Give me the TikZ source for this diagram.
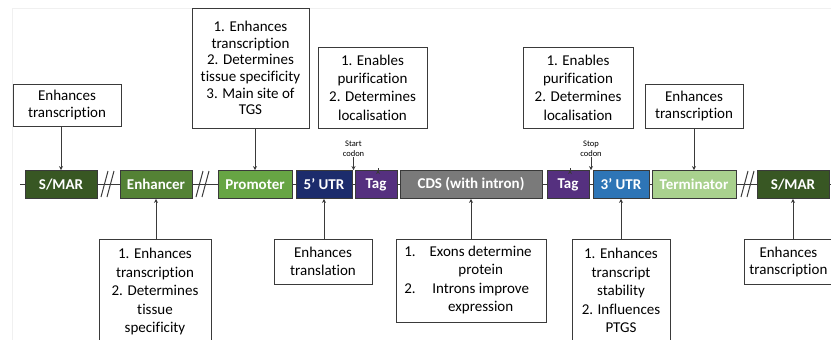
\documentclass[tikz,border=0pt]{standalone}
\usepackage{fontspec}
\setmainfont{Carlito}[Ligatures={NoCommon}]
\usetikzlibrary{arrows.meta,calc}
\definecolor{csmar}{HTML}{385723}
\definecolor{cenh}{HTML}{548235}
\definecolor{cprom}{HTML}{67A544}
\definecolor{cutrf}{HTML}{1C2C6C}
\definecolor{ctag}{HTML}{55307F}
\definecolor{ccds}{HTML}{7A7A7A}
\definecolor{cutrt}{HTML}{2E75B6}
\definecolor{cterm}{HTML}{A9D18E}
\definecolor{cline}{HTML}{3A3A3A}
\begin{document}
\begin{tikzpicture}[x=1pt,y=-1pt,
  blk/.style={draw=cline,line width=0.8pt,minimum height=28pt,inner sep=0pt,
    text=white,font=\fontsize{15}{16}\selectfont\bfseries},
  infobox/.style={draw=cline,line width=0.9pt,fill=white,inner sep=0pt,align=center,
    font=\fontsize{15}{18.3}\selectfont},
  conn/.style={draw=cline,line width=1pt,-{Stealth[length=4pt,width=4pt]}},
  brk/.style={draw=cline,line width=1pt},
  codon/.style={inner sep=0pt,align=center,font=\fontsize{8.5}{10}\selectfont},
]
\useasboundingbox (0,0) rectangle (831,340);
\clip (0,0) rectangle (831,340);
% faint frame
\draw[gray!12,line width=0.8pt] (12,8.5) -- (831,8.5);
\draw[gray!12,line width=0.8pt] (12,8.5) -- (12,340);
% backbone
\coordinate (bbL) at (20,184.5);
\coordinate (bbR) at (840,184.5);
\draw[cline,line width=1pt] (bbL) -- (bbR);
% blocks
\node[blk,fill=csmar,minimum width=72pt] (smarA) at (61,184.5) {S/MAR};
\node[blk,fill=cenh,minimum width=72pt] (enh) at (156,184.5) {Enhancer};
\node[blk,fill=cprom,minimum width=74pt] (prom) at (255,184.5) {Promoter};
\node[blk,fill=cutrf,minimum width=56pt] (utrf) at (324,184.5) {5’ UTR};
\node[blk,fill=ctag,minimum width=42pt] (tagA) at (376,184.5) {Tag};
\node[blk,fill=ccds,minimum width=142pt] (cds) at (471,184.5) {CDS (with intron)};
\node[blk,fill=ctag,minimum width=42pt] (tagB) at (568,184.5) {Tag};
\node[blk,fill=cutrt,minimum width=56pt] (utrt) at (621,184.5) {3’ UTR};
\node[blk,fill=cterm,minimum width=84pt] (term) at (694,184.5) {Terminator};
\node[blk,fill=csmar,minimum width=72pt] (smarB) at (793,184.5) {S/MAR};
% break marks
\foreach \x in {101,196,741}{
  \draw[brk] (\x,197) -- (\x+7,171);
  \draw[brk] (\x+6,197) -- (\x+13,171);
}
% top boxes
\node[infobox,minimum width=108pt,minimum height=42pt,font=\fontsize{15}{17.5}\selectfont] (tA) at (67,105) {Enhances\\transcription};
\node[infobox,minimum width=117pt,minimum height=120pt,font=\fontsize{15}{16.6}\selectfont] (tB) at (250.5,68) {1. Enhances\\transcription\\2. Determines\\tissue specificity\\3. Main site of\\TGS};
\node[infobox,minimum width=109pt,minimum height=81pt] (tC) at (372.5,87.5) {1. Enables\\purification\\2. Determines\\localisation};
\node[infobox,minimum width=110pt,minimum height=81pt] (tD) at (578,87.5) {1. Enables\\purification\\2. Determines\\localisation};
\node[infobox,minimum width=98pt,minimum height=44pt,font=\fontsize{15}{17.7}\selectfont] (tE) at (694,106) {Enhances\\transcription};
% top connectors
\draw[conn] ($(tagA.north)+(2,0)$ |- tC.south) -- ($(tagA.north)+(2,0)$);
\draw[conn] ($(tagB.north)+(2,0)$ |- tD.south) -- ($(tagB.north)+(2,0)$);
\draw[conn] (smarA.north |- tA.south) -- (smarA.north);
\draw[conn] (prom.north |- tB.south) -- (prom.north);
\draw[conn] (term.north |- tE.south) -- (term.north);
% codons
\coordinate (scod) at ($(utrf.north east)!0.5!(tagA.north west)$);
\coordinate (ecod) at ($(tagB.north east)!0.5!(utrt.north west)$);
\node[codon,anchor=south] (startlbl) at ($(scod)+(0,-13)$) {Start\\codon};
\node[codon,anchor=south] (stoplbl) at ($(ecod)+(0,-13)$) {Stop\\codon};
\draw[conn] (startlbl.south) -- (scod);
\draw[conn] (stoplbl.south) -- (ecod);
% bottom boxes
\node[infobox,anchor=north,font=\fontsize{15}{18.5}\selectfont] (bA) at (155,239) {\parbox[t][115pt][t]{112pt}{\centering\vspace{9pt}1. Enhances\\transcription\\2. Determines\\tissue\\specificity}};
\node[infobox,minimum width=98pt,minimum height=45pt,font=\fontsize{15}{17.7}\selectfont] (bB) at (323,261.5) {Enhances\\translation};
\node[infobox,minimum width=150pt,minimum height=83pt,font=\fontsize{15}{18.5}\selectfont] (bC) at (471,280.5) {\hspace{-6pt}\begin{tabular}{@{}l@{\hspace{14pt}}c@{}}1. & Exons determine\\ & protein\\ 2. & Introns improve\\ & expression\end{tabular}};
\node[infobox,anchor=north,font=\fontsize{15}{18.5}\selectfont] (bD) at (621,239) {\parbox[t][115pt][t]{98pt}{\centering\vspace{9pt}1. Enhances\\transcript\\stability\\2. Influences\\PTGS}};
\node[infobox,anchor=north west,minimum width=100pt,minimum height=45pt,font=\fontsize{15}{17.7}\selectfont] (bE) at (744,239) {\hspace{-12pt}Enhances\\\hspace{-12pt}transcription};
% bottom connectors
\draw[conn] (enh.south |- bA.north) -- (enh.south);
\draw[conn] (utrf.south |- bB.north) -- (utrf.south);
\draw[conn] (cds.south |- bC.north) -- (cds.south);
\draw[conn] (utrt.south |- bD.north) -- (utrt.south);
\draw[conn] (smarB.south |- bE.north) -- (smarB.south);
\end{tikzpicture}
\end{document}
